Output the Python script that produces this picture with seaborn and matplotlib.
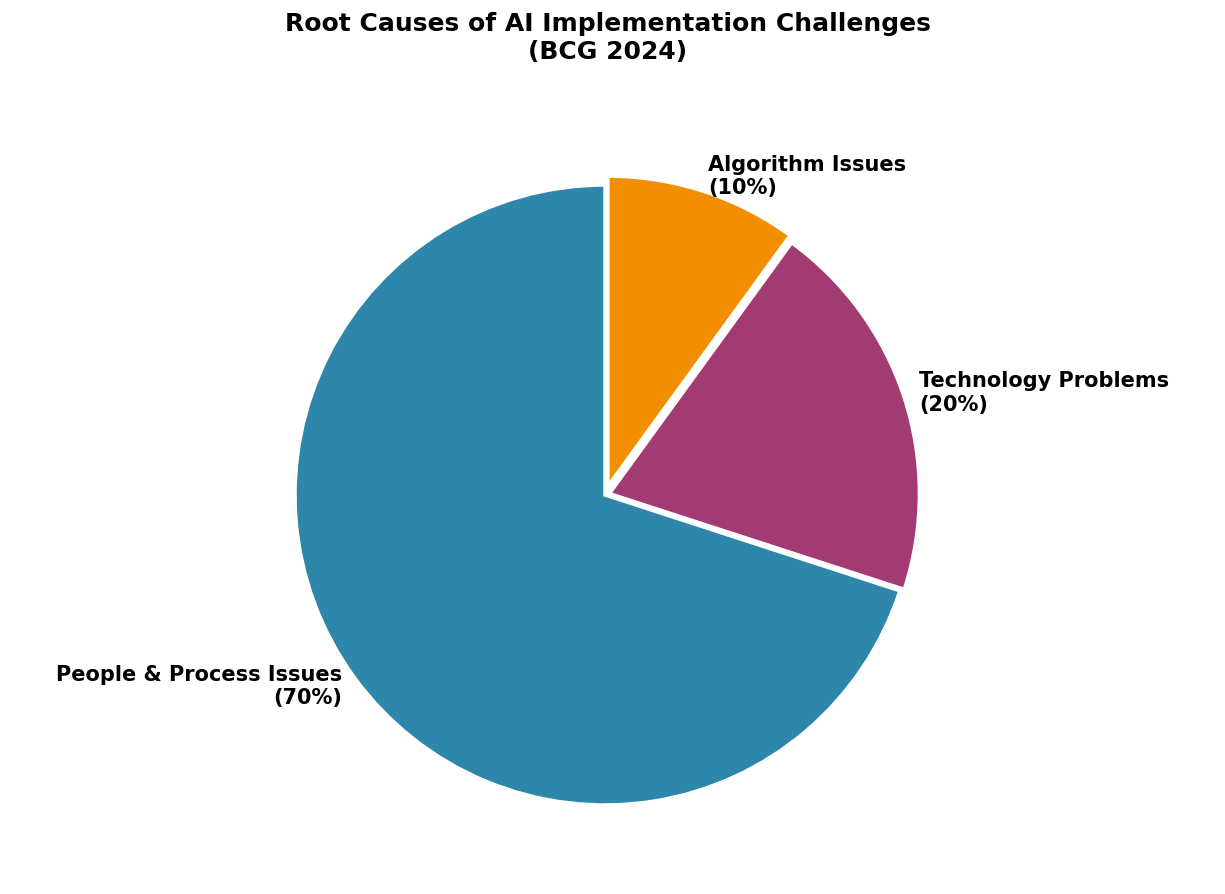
import matplotlib
matplotlib.use("Agg")
import matplotlib.pyplot as plt
import seaborn as sns
sns.set_style("white")

# data
causes = ["People & Process Issues", "Technology Problems", "Algorithm Issues"]
shares = [70, 20, 10]
colors = ["#2E86AB", "#A23B72", "#F18F01"]
explode = [0.0, 0.015, 0.03]

labels = [f"{c}\n({s}%)" for c, s in zip(causes, shares)]

fig = plt.figure(figsize=(12.25, 8.94), dpi=100)
ax = fig.add_axes([233 / 1225, 27 / 894, 744 / 1225, 744 / 894])
wedges, texts = ax.pie(shares, labels=labels, colors=colors, explode=explode,
                       startangle=90, labeldistance=1.05,
                       wedgeprops=dict(edgecolor="white", linewidth=2.5),
                       textprops=dict(fontsize=15, fontweight="bold", color="black"))
ax.set_xlim(-1.2, 1.2)
ax.set_ylim(-1.2, 1.2)
ax.set_aspect("equal", adjustable="box")
fig.suptitle("Root Causes of AI Implementation Challenges\n(BCG 2024)",
             fontsize=18, fontweight="bold", color="black",
             x=608 / 1225, y=1 - 12 / 894, va="top")
plt.savefig("out.png", dpi=100)
